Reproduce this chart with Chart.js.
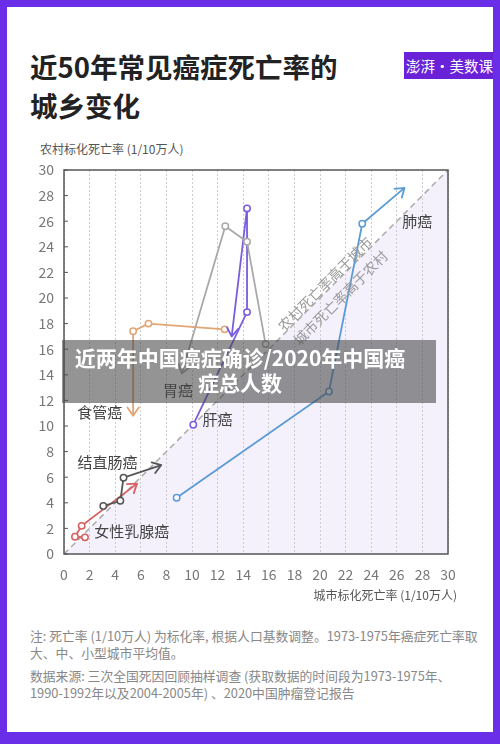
<!DOCTYPE html>
<html>
<head>
<meta charset="utf-8">
<script src="https://cdn.jsdelivr.net/npm/chart.js@4/dist/chart.umd.min.js"></script>
<style>
body { margin: 0; }
#page { position: relative; width: 500px; height: 744px; background: #fff; overflow: hidden;
  font-family: "Noto Sans CJK SC", "Noto Sans", sans-serif; }
#frame { position: absolute; left: 0; top: 0; right: 0; bottom: 0; box-sizing: border-box;
  border: 7px solid #6b2ee8; border-bottom-width: 12px; pointer-events: none; }
#title { position: absolute; left: 30px; top: 47px; font-size: 27.5px; font-weight: bold; line-height: 39px; color: #222; }
#logo { position: absolute; left: 404px; top: 52px; width: 96px; height: 27px; background: #6a22d8;
  color: #fff; font-size: 14.5px; line-height: 27px; white-space: nowrap; padding-left: 2px; box-sizing: border-box; }
#ytitle { position: absolute; left: 40px; top: 140px; font-size: 12px; line-height: 18px; color: #555; }
#xtitle { position: absolute; right: 43px; top: 586px; font-size: 12px; line-height: 18px; color: #555; }
#box { position: absolute; left: 0; top: 140px; width: 500px; height: 470px; }
#notes { position: absolute; left: 30px; top: 628px; font-size: 12.8px; line-height: 16.5px; color: #888; white-space: nowrap; }
#notes p { margin: 0 0 7px 0; }
#banner { position: absolute; left: 62px; top: 340px; width: 374px; height: 63px; box-sizing: border-box;
  background: rgba(70,70,70,0.58); color: #fff; font-size: 21px; font-weight: bold; line-height: 25px;
  text-align: center; padding: 5px 18px 0 0; }
</style>
</head>
<body>
<div id="page">
  <div id="title">近50年常见癌症死亡率的<br>城乡变化</div>
  <div id="logo">澎湃·美数课</div>
  <div id="ytitle">农村标化死亡率 (1/10万人)</div>
  <div id="box"><canvas id="chart"></canvas></div>
  <div id="xtitle">城市标化死亡率 (1/10万人)</div>
  <div id="notes">
    <p>注: 死亡率 (1/10万人) 为标化率, 根据人口基数调整。1973-1975年癌症死亡率取<br>大、中、小型城市平均值。</p>
    <p>数据来源: 三次全国死因回顾抽样调查 (获取数据的时间段为1973-1975年、<br>1990-1992年以及2004-2005年) 、2020中国肿瘤登记报告</p>
  </div>
  <div id="banner">近两年中国癌症确诊/2020年中国癌<br>症总人数</div>
  <div id="frame"></div>
</div>
<script>
// periods: 1973-1975, 1990-1992, 2004-2005, 2020 (last one = arrow end)
var periods = ['1973-1975', '1990-1992', '2004-2005', '2020'];

var lungUrban = [8.8, 20.7, 23.3, 26.6];
var lungRural = [4.4, 12.7, 25.8, 28.6];
var stomachUrban = [15.75, 14.3, 12.6, 9.2];
var stomachRural = [16.4, 24.4, 25.6, 14.1];
var liverUrban = [10.1, 14.3, 14.3, 13.1];
var liverRural = [10.1, 18.9, 27.0, 17.0];
var esophagusUrban = [12.55, 6.6, 5.4, 5.4];
var esophagusRural = [17.55, 18.0, 17.4, 10.8];
var colorectalUrban = [3.07, 4.4, 4.65, 7.6];
var colorectalRural = [3.75, 4.16, 5.96, 6.95];
var breastUrban = [1.64, 0.86, 1.38, 5.7];
var breastRural = [1.3, 1.35, 2.2, 5.5];

// label anchors (data units)
var cancerNames = ['肺癌', '胃癌', '肝癌', '食管癌', '结直肠癌', '女性乳腺癌'];
var nameX = [27.6, 8.9, 12.0, 2.8, 3.4, 5.3];
var nameY = [26.0, 12.8, 10.5, 11.1, 7.2, 1.75];

function pts(u, r) {
    return u.map(function (x, i) { return { x: x, y: r[i] }; });
}

function pathSet(name, u, r, color) {
    return {
        label: name,
        data: pts(u, r),
        showLine: true,
        arrow: true,
        borderColor: color,
        borderWidth: 1.8,
        pointRadius: [3.2, 3.2, 3.2, 0],
        pointBorderWidth: 1.5,
        pointBorderColor: color,
        pointBackgroundColor: '#fff',
        fill: false
    };
}

var arrowPlugin = {
    id: 'arrows',
    afterDatasetsDraw: function (chart) {
        var ctx = chart.ctx;
        chart.data.datasets.forEach(function (ds, i) {
            if (!ds.arrow) return;
            var p = chart.getDatasetMeta(i).data;
            var a = p[p.length - 2], b = p[p.length - 1];
            var ang = Math.atan2(b.y - a.y, b.x - a.x);
            ctx.save();
            ctx.strokeStyle = ds.borderColor;
            ctx.lineWidth = 1.8;
            ctx.lineCap = 'round';
            ctx.lineJoin = 'round';
            ctx.beginPath();
            ctx.moveTo(b.x - 10 * Math.cos(ang - 0.6), b.y - 10 * Math.sin(ang - 0.6));
            ctx.lineTo(b.x, b.y);
            ctx.lineTo(b.x - 10 * Math.cos(ang + 0.6), b.y - 10 * Math.sin(ang + 0.6));
            ctx.stroke();
            ctx.restore();
        });
    },
    afterDraw: function (chart) {
        var ctx = chart.ctx, a = chart.chartArea;
        var xs = chart.scales.x, ys = chart.scales.y;
        ctx.save();
        // frame
        ctx.strokeStyle = '#555';
        ctx.lineWidth = 1.5;
        ctx.strokeRect(a.left, a.top, a.right - a.left, a.bottom - a.top);
        // inner ticks on y axis
        ctx.lineWidth = 1;
        for (var v = 0; v <= 30; v += 2) {
            var py = ys.getPixelForValue(v);
            ctx.beginPath();
            ctx.moveTo(a.left, py);
            ctx.lineTo(a.left + 4, py);
            ctx.stroke();
        }
        // diagonal notes
        ctx.fillStyle = '#999';
        ctx.font = '14px "Noto Sans CJK SC"';
        ctx.textAlign = 'center';
        ctx.textBaseline = 'middle';
        [['农村死亡率高于城市', 20.4, 21.1], ['城市死亡率高于农村', 21.6, 20.0]].forEach(function (t) {
            ctx.save();
            ctx.translate(xs.getPixelForValue(t[1]), ys.getPixelForValue(t[2]));
            ctx.rotate(-Math.PI / 4);
            ctx.fillText(t[0], 0, 0);
            ctx.restore();
        });
        // cancer names
        ctx.fillStyle = '#444';
        ctx.font = '15px "Noto Sans CJK SC"';
        cancerNames.forEach(function (n, i) {
            ctx.fillText(n, xs.getPixelForValue(nameX[i]), ys.getPixelForValue(nameY[i]));
        });
        ctx.restore();
    }
};

Chart.defaults.font.family = '"Noto Sans CJK SC", "Noto Sans", sans-serif';

new Chart(document.getElementById('chart'), {
    type: 'scatter',
    data: {
        datasets: [
            pathSet('肺癌', lungUrban, lungRural, '#5b9bd5'),
            pathSet('胃癌', stomachUrban, stomachRural, '#a9a9a9'),
            pathSet('肝癌', liverUrban, liverRural, '#7b5ce0'),
            pathSet('食管癌', esophagusUrban, esophagusRural, '#e2a574'),
            pathSet('结直肠癌', colorectalUrban, colorectalRural, '#555555'),
            pathSet('女性乳腺癌', breastUrban, breastRural, '#d95f5f'),
            {
                label: 'diag',
                data: [{ x: 0, y: 0 }, { x: 30, y: 30 }],
                showLine: true,
                borderColor: '#aaaaaa',
                borderWidth: 1.5,
                borderDash: [6, 4],
                pointRadius: 0,
                fill: 'origin',
                backgroundColor: '#f4f1fd'
            }
        ]
    },
    options: {
        responsive: true,
        maintainAspectRatio: false,
        animation: false,
        layout: { padding: { top: 30, right: 52, bottom: 16, left: 0 } },
        plugins: {
            legend: { display: false },
            tooltip: { enabled: false },
            filler: { drawTime: 'beforeDraw' }
        },
        scales: {
            x: {
                type: 'linear', min: 0, max: 30,
                ticks: { stepSize: 2, padding: 12, color: '#777', font: { size: 14 } },
                grid: { color: '#cccccc', lineWidth: 1, drawTicks: false },
                border: { display: false, dash: [2, 2] },
                afterFit: function (s) { s.height = 40; }
            },
            y: {
                type: 'linear', min: 0, max: 30,
                ticks: { stepSize: 2, padding: 10, color: '#777', font: { size: 14 } },
                grid: { display: false, drawTicks: false },
                border: { display: false },
                afterFit: function (s) { s.width = 64; }
            }
        }
    },
    plugins: [arrowPlugin]
});
</script>
</body>
</html>
